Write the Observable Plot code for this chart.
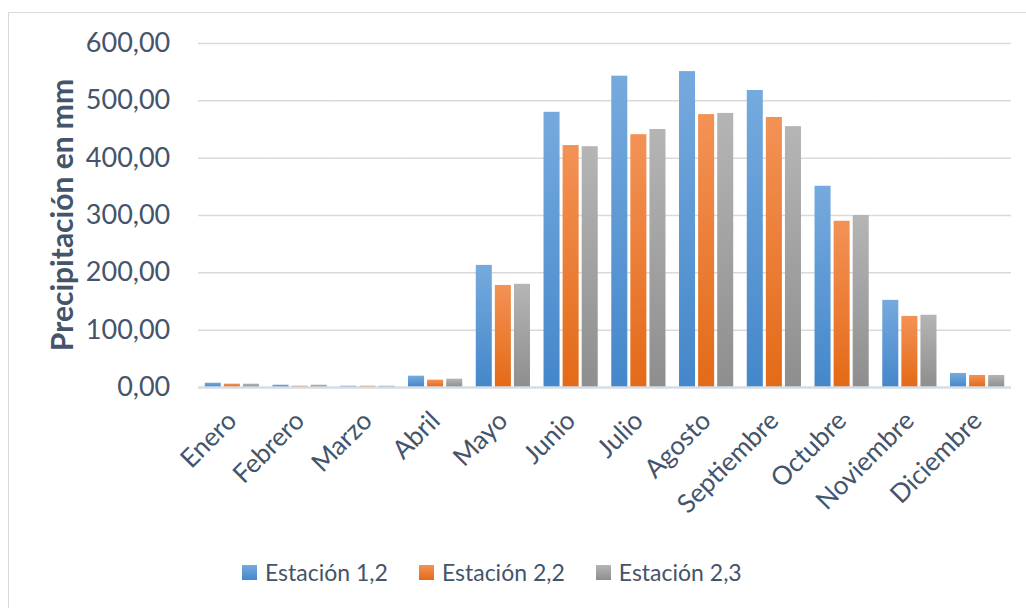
<!DOCTYPE html>
<html><head><meta charset="utf-8">
<script src="https://cdn.jsdelivr.net/npm/d3@7"></script>
<script src="https://cdn.jsdelivr.net/npm/@observablehq/plot@0.6"></script>
<style>
body{margin:0;background:#fff;font-family:Lato,"Open Sans",sans-serif;}
#frame{position:absolute;left:8px;top:12px;width:1018px;height:596px;border-left:1px solid #d9d9d9;border-top:1px solid #d9d9d9;box-sizing:border-box;}
#chart{position:absolute;left:0;top:0;}
#legend{position:absolute;left:242px;top:558px;display:flex;align-items:center;font-size:23px;color:#44546a;}
#legend .item{display:flex;align-items:center;margin-right:31px;}
#legend .sw{width:15px;height:15px;margin-right:8px;}
</style></head>
<body>
<div id="frame"></div>
<div id="chart"></div>
<div id="legend"></div>
<script>
const months = ["Enero","Febrero","Marzo","Abril","Mayo","Junio","Julio","Agosto","Septiembre","Octubre","Noviembre","Diciembre"];
const stations = ["Estación 1,2","Estación 2,2","Estación 2,3"];
const est12 = [7.5,4,2.3,19.7,213,480,543,551,518,351,152,24.5];
const est22 = [5.8,2.3,2.3,12.8,178,422,441,476,471,290,124,21];
const est23 = [5.8,4,2.3,14.5,180,420,450,478,455,300,126,21];
const yTicks = [0,100,200,300,400,500,600];
const yTitle = "Precipitación en mm";

const gradTop = ["#76aade","#f39256","#b5b5b5"];
const gradBottom = ["#4487ca","#e36a17","#8e8e8e"];
const gradIds = ["g0","g1","g2"];

const series = [est12, est22, est23];
const data = [];
months.forEach((m, i) => stations.forEach((s, j) => data.push({month: m, station: s, value: series[j][i]})));

const fmt = d => d.toFixed(2).replace(".", ",");

const svg = Plot.plot({
  width: 1026, height: 540,
  marginTop: 43, marginBottom: 153, marginLeft: 198, marginRight: 15,
  style: {fontFamily: "Lato, 'Open Sans', sans-serif", fontSize: "26px", background: "transparent"},
  fx: {domain: months, paddingInner: 0.2, paddingOuter: 0.1, round: false, label: null},
  x: {domain: stations, axis: null, paddingInner: 0.16, paddingOuter: 0, round: false},
  y: {domain: [0, 600], axis: null},
  color: {domain: stations, range: gradIds.map(id => `url(#${id})`)},
  marks: [
    Plot.ruleY(yTicks.slice(1), {stroke: "#d9d9d9", strokeWidth: 1.5, insetLeft: -6.8, insetRight: -6.8}),
    Plot.barY(data, {fx: "month", x: "station", y: "value", fill: "station"}),
    Plot.ruleY([0], {stroke: "#d6dce4", strokeWidth: 2.5, insetLeft: -6.8, insetRight: -6.8}),
    Plot.axisY({ticks: yTicks, tickSize: 0, tickPadding: 35, tickFormat: fmt, fontSize: 27, color: "#44546a", label: null}),
    Plot.axisFx({anchor: "bottom", tickRotate: -45, tickSize: 0, tickPadding: 29, fontSize: 26, color: "#44546a", label: null})
  ]
});

const defs = d3.select(svg).insert("defs", ":first-child");
gradIds.forEach((id, i) => {
  const g = defs.append("linearGradient").attr("id", id).attr("x1", 0).attr("y1", 0).attr("x2", 0).attr("y2", 1);
  g.append("stop").attr("offset", "0%").attr("stop-color", gradTop[i]);
  g.append("stop").attr("offset", "100%").attr("stop-color", gradBottom[i]);
});
d3.select(svg).append("text")
  .attr("transform", "translate(73,215) rotate(-90)")
  .attr("text-anchor", "middle")
  .attr("font-size", 30).attr("font-weight", "bold").attr("fill", "#44546a")
  .text(yTitle);

document.getElementById("chart").appendChild(svg);

const legend = document.getElementById("legend");
stations.forEach((s, i) => {
  const it = document.createElement("div"); it.className = "item";
  const sw = document.createElement("div"); sw.className = "sw";
  sw.style.background = `linear-gradient(${gradTop[i]}, ${gradBottom[i]})`;
  const t = document.createElement("span"); t.textContent = s;
  it.appendChild(sw); it.appendChild(t); legend.appendChild(it);
});
</script>
</body></html>
